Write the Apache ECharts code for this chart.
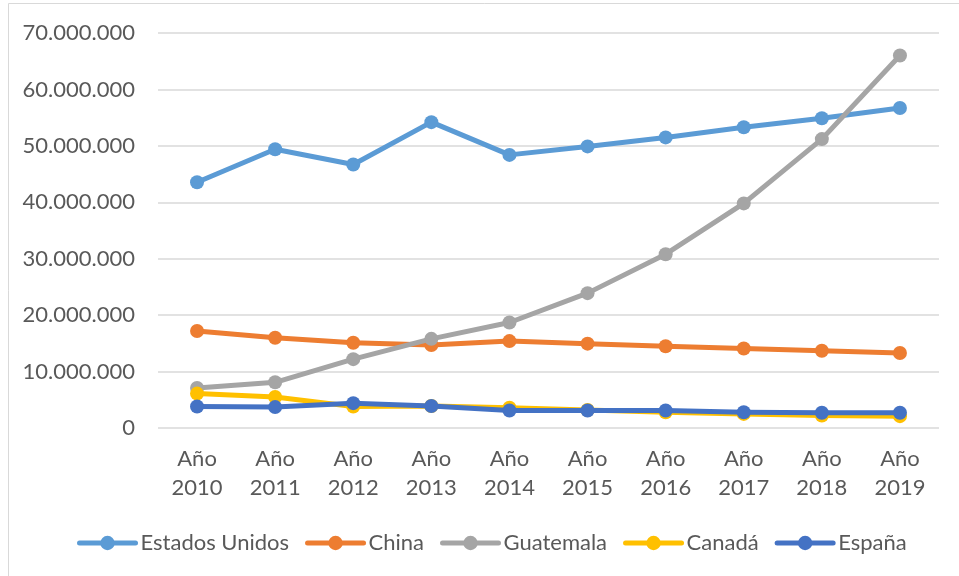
<!DOCTYPE html>
<html>
<head>
<meta charset="utf-8">
<script src="https://cdn.jsdelivr.net/npm/echarts@6/dist/echarts.min.js"></script>
<style>
  html, body { margin: 0; padding: 0; background: #ffffff; }
  #chart { width: 959px; height: 576px; }
</style>
</head>
<body>
<div id="chart"></div>
<script>
// Categories (years) and series values
const years = ['Año\n2010', 'Año\n2011', 'Año\n2012', 'Año\n2013', 'Año\n2014',
               'Año\n2015', 'Año\n2016', 'Año\n2017', 'Año\n2018', 'Año\n2019'];

const estadosUnidos = [43550000, 49400000, 46700000, 54200000, 48400000, 49900000, 51500000, 53300000, 54900000, 56700000];
const china         = [17200000, 16000000, 15100000, 14700000, 15400000, 14950000, 14500000, 14100000, 13700000, 13300000];
const guatemala     = [7100000, 8100000, 12200000, 15800000, 18700000, 23900000, 30800000, 39800000, 51200000, 66000000];
const canada        = [6100000, 5500000, 3800000, 3900000, 3600000, 3200000, 2800000, 2500000, 2200000, 2100000];
const espana        = [3800000, 3700000, 4400000, 3900000, 3100000, 3100000, 3100000, 2800000, 2700000, 2700000];

const seriesNames  = ['Estados Unidos', 'China', 'Guatemala', 'Canadá', 'España'];
const seriesValues = [estadosUnidos, china, guatemala, canada, espana];
const seriesColors = ['#5B9BD5', '#ED7D31', '#A5A5A5', '#FFC000', '#4472C4'];

const fontFamily = 'Lato, "Open Sans", sans-serif';
const textColor = '#595959';

function formatThousands(v) {
  return String(Math.round(v)).replace(/\B(?=(\d{3})+(?!\d))/g, '.');
}

const chart = echarts.init(document.getElementById('chart'), null, { renderer: 'canvas' });

chart.setOption({
  backgroundColor: '#ffffff',
  animation: false,
  graphic: [{
    type: 'rect',
    shape: { x: 8.5, y: 3.5, width: 960, height: 580 },
    style: { fill: 'none', stroke: '#D9D9D9', lineWidth: 1 },
    silent: true
  }],
  grid: { left: 158, right: 20, top: 33, bottom: 148, containLabel: false },
  legend: {
    data: seriesNames,
    bottom: 17,
    left: 72,
    itemWidth: 56,
    itemHeight: 18,
    itemGap: 16,
    lineStyle: { width: 5 },
    textStyle: { fontFamily: fontFamily, fontSize: 22, color: textColor }
  },
  xAxis: {
    type: 'category',
    data: years,
    boundaryGap: true,
    axisLine: { show: false },
    axisTick: { show: false },
    axisLabel: {
      fontFamily: fontFamily, fontSize: 22, color: textColor,
      lineHeight: 29, margin: 16, interval: 0
    }
  },
  yAxis: {
    type: 'value',
    min: 0,
    max: 70000000,
    interval: 10000000,
    axisLine: { show: false },
    axisTick: { show: false },
    splitLine: { lineStyle: { color: '#D9D9D9', width: 1.5 } },
    axisLabel: {
      fontFamily: fontFamily, fontSize: 22, color: textColor, margin: 23,
      formatter: formatThousands
    }
  },
  series: seriesNames.map((name, i) => ({
    name: name,
    type: 'line',
    data: seriesValues[i],
    symbol: 'circle',
    symbolSize: 14,
    showAllSymbol: true,
    color: seriesColors[i],
    lineStyle: { width: 5, color: seriesColors[i], cap: 'round', join: 'round' },
    itemStyle: { color: seriesColors[i] },
    z: 2 + i
  }))
});
</script>
</body>
</html>
